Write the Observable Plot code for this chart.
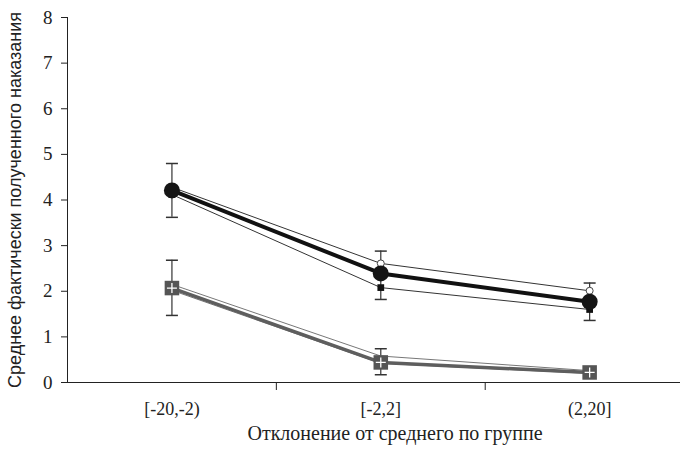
<!DOCTYPE html>
<html>
<head>
<meta charset="utf-8">
<script src="https://cdn.jsdelivr.net/npm/d3@7"></script>
<script src="https://cdn.jsdelivr.net/npm/@observablehq/plot@0.6"></script>
<style>
  html, body { margin: 0; padding: 0; background: #fff; }
  g[aria-label$="tick label"], g[aria-label$="tick label"] text { font-family: "Liberation Serif", serif !important; }
</style>
</head>
<body>
<div id="chart"></div>
<script>
const categories = ["[-20,-2)", "[-2,2]", "(2,20]"];
const yTicks = [0, 1, 2, 3, 4, 5, 6, 7, 8];

// Black group
const blackMean = [4.21, 2.39, 1.77];
const blackLow = [3.62, 1.82, 1.36];
const blackHigh = [4.80, 2.88, 2.18];
const blackUpper = [4.28, 2.61, 2.01];
const blackLower = [4.12, 2.08, 1.60];

// Gray group
const grayMean = [2.07, 0.44, 0.22];
const grayLow = [1.47, 0.17, 0.20];
const grayHigh = [2.68, 0.74, 0.32];
const grayUpper = [2.15, 0.58, 0.26];
const grayLower = [2.02, 0.42, 0.20];

const yTitle = "Среднее фактически полученного наказания";
const xTitle = "Отклонение от среднего по группе";

const idx = categories.map((c, i) => i);
const rows = (arr) => arr.map((v, i) => ({x: i, y: v}));
const errRows = (lo, hi) => lo.map((v, i) => ({x: i, lo: v, hi: hi[i]}));

const xDomain = [-0.5, 2.435];
const boundaries = [0.5, 1.5];

const cap = { draw(ctx) { ctx.moveTo(-6, 0); ctx.lineTo(6, 0); } };
const smallPlus = { draw(ctx) { ctx.moveTo(-5, 0); ctx.lineTo(5, 0); ctx.moveTo(0, -5); ctx.lineTo(0, 5); } };

const serif = "Liberation Serif";
const sans = "Liberation Sans";

const blackErr = errRows(blackLow, blackHigh);
const grayErr = errRows(grayLow, grayHigh);

const chart = Plot.plot({
  width: 683,
  height: 450,
  marginLeft: 67,
  marginRight: 3,
  marginTop: 17,
  marginBottom: 68,
  style: {background: "#fff", fontFamily: serif},
  x: {type: "linear", domain: xDomain},
  y: {domain: [0, 8]},
  marks: [
    Plot.axisY({ticks: yTicks, tickSize: 6, tickPadding: 9, fontSize: 19, fontFamily: serif, label: null, stroke: "#222", fill: "#222"}),
    Plot.axisX({ticks: boundaries, tickSize: 8, tickFormat: () => "", label: null, stroke: "#222"}),
    Plot.axisX({ticks: idx, tickSize: 0, tickPadding: 20, tickFormat: (d) => categories[d], fontSize: 18, fontFamily: serif, label: null, fill: "#222"}),
    Plot.ruleX([xDomain[0]], {stroke: "#222", strokeWidth: 1}),
    Plot.ruleY([0], {stroke: "#222", strokeWidth: 1}),
    Plot.text([yTitle], {frameAnchor: "left", textAnchor: "middle", rotate: -90, dx: -52, fontSize: 18, fontFamily: sans, fill: "#222"}),
    Plot.text([xTitle], {frameAnchor: "bottom", textAnchor: "middle", dy: 57, dx: 21, fontSize: 20, fontFamily: serif, fill: "#222"}),

    // error bars
    Plot.ruleX(grayErr, {x: "x", y1: "lo", y2: "hi", stroke: "#333", strokeWidth: 1.2}),
    Plot.dot(grayErr, {x: "x", y: "lo", symbol: cap, stroke: "#333", strokeWidth: 1.5, fill: "none"}),
    Plot.dot(grayErr, {x: "x", y: "hi", symbol: cap, stroke: "#333", strokeWidth: 1.5, fill: "none"}),
    Plot.ruleX(blackErr, {x: "x", y1: "lo", y2: "hi", stroke: "#333", strokeWidth: 1.2}),
    Plot.dot(blackErr, {x: "x", y: "lo", symbol: cap, stroke: "#333", strokeWidth: 1.5, fill: "none"}),
    Plot.dot(blackErr, {x: "x", y: "hi", symbol: cap, stroke: "#333", strokeWidth: 1.5, fill: "none"}),

    // gray group lines
    Plot.line(rows(grayUpper), {x: "x", y: "y", stroke: "#777", strokeWidth: 1}),
    Plot.line(rows(grayLower), {x: "x", y: "y", stroke: "#777", strokeWidth: 1}),
    Plot.line(rows(grayMean), {x: "x", y: "y", stroke: "#5e5e5e", strokeWidth: 3.5}),

    // black group lines
    Plot.line(rows(blackUpper), {x: "x", y: "y", stroke: "#333", strokeWidth: 1}),
    Plot.line(rows(blackLower), {x: "x", y: "y", stroke: "#333", strokeWidth: 1}),
    Plot.line(rows(blackMean), {x: "x", y: "y", stroke: "#111", strokeWidth: 4}),

    // markers
    Plot.dot(rows(blackUpper), {x: "x", y: "y", r: 3.5, fill: "#fff", stroke: "#444", strokeWidth: 1}),
    Plot.dot(rows(blackLower), {x: "x", y: "y", symbol: "square", r: 3.8, fill: "#111", stroke: "none"}),
    Plot.dot(rows(blackMean), {x: "x", y: "y", r: 8, fill: "#151515", stroke: "none"}),
    Plot.dot(rows(grayMean), {x: "x", y: "y", symbol: "square", r: 8.2, fill: "#555", stroke: "none"}),
    Plot.dot(rows(grayMean), {x: "x", y: "y", symbol: smallPlus, stroke: "#fff", strokeWidth: 1.3, fill: "none"})
  ]
});

document.getElementById("chart").appendChild(chart);
</script>
</body>
</html>
